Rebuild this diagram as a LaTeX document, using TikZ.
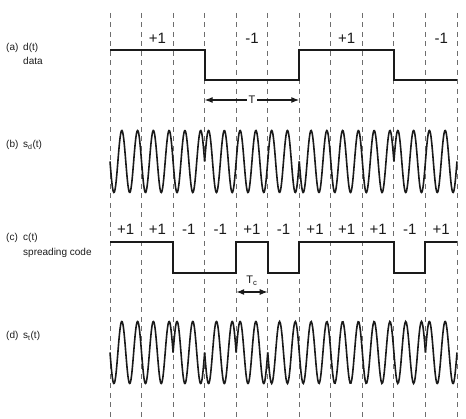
\documentclass[tikz,border=0pt]{standalone}
\usepackage{fontspec}
\setmainfont{Liberation Sans}
\usepackage{xcolor}
\usetikzlibrary{arrows.meta}
\definecolor{gridgray}{HTML}{6E6E6E}
\definecolor{inkblack}{HTML}{1A1A1A}

\begin{document}
\begin{tikzpicture}[x=1pt, y=-1pt, every node/.style={font=\fontsize{10}{12}\selectfont, inner sep=1pt, text=inkblack}]
        \useasboundingbox (0,0) rectangle (466,419);
        \tikzset{chipgrid/.style={gridgray, line width=0.9pt, dash pattern=on 5pt off 4.5pt},
          levelline/.style={inkblack, line width=2pt},
          carrier/.style={inkblack, line width=1.6pt},
          bitlabel/.style={font=\fontsize{15}{17}\selectfont},
          spanarrow/.style={{Latex[length=8pt,width=6pt]}-{Latex[length=8pt,width=6pt]}, inkblack, line width=1.2pt}}
        \foreach \i in {0,...,11}{\coordinate (t\i) at ({110+31.545*\i},0); \draw[chipgrid] (t\i |- 0,13) -- (t\i |- 0,417);}
        \coordinate (dhi) at (0,50); \coordinate (dlo) at (0,80);
        \coordinate (chi) at (0,242); \coordinate (clo) at (0,273);
        \node[anchor=west] (laba) at (5,48) {(a)}; \node[anchor=west] (nameda) at (22,48) {d(t)};
        \node[anchor=west] (descda) at (22,61) {data};
        \node[anchor=west] (labb) at (5,145) {(b)}; \node[anchor=west] (namesd) at (22,145) {s\textsubscript{d}(t)};
        \node[anchor=west] (labc) at (5,238) {(c)}; \node[anchor=west] (namect) at (22,238) {c(t)};
        \node[anchor=west] (descct) at (22,253) {spreading code};
        \node[anchor=west] (labd) at (5,336) {(d)}; \node[anchor=west] (namest) at (22,336) {s\textsubscript{t}(t)};
        \draw[levelline] (t0|-dhi) -- (t3|-dhi) -- (t3|-dlo) -- (t6|-dlo) -- (t6|-dhi) -- (t9|-dhi) -- (t9|-dlo) -- (t11|-dlo);
        \foreach \k/\v in {1/+1,4/-1,7/+1,10/-1}{\node[bitlabel] (dbit\k) at ({110+31.545*(\k+0.5)},38) {\v};}
        \draw[spanarrow] (t3|-0,100) -- (t6|-0,100) node[midway, fill=white, inner sep=2pt, font=\fontsize{11}{13}\selectfont] (Tlab) {T};
        \foreach \a/\b/\s [evaluate=\a as \xa using 110+31.545*\a, evaluate=\b as \xb using 110+31.545*\b] in {0/3/1,3/6/-1,6/9/1,9/11/-1}{\draw[carrier] plot[domain=\xa:\xb, samples=200] (\x, {161.5+31*\s*sin(22.8245*(\x-110))});}
        \draw[levelline] (t0|-chi) -- (t2|-chi) -- (t2|-clo) -- (t4|-clo) -- (t4|-chi) -- (t5|-chi) -- (t5|-clo) -- (t6|-clo) -- (t6|-chi) -- (t9|-chi) -- (t9|-clo) -- (t10|-clo) -- (t10|-chi) -- (t11|-chi);
        \foreach \v [count=\k from 0] in {+1,+1,-1,-1,+1,-1,+1,+1,+1,-1,+1}{\node[bitlabel] (cbit\k) at ({110+31.545*(\k+0.5)},229) {\v};}
        \draw[spanarrow] (t4|-0,292) -- (t5|-0,292);
        \node[font=\fontsize{11}{13}\selectfont] (Tclab) at (252,281) {T\textsubscript{c}};
        \foreach \a/\b/\s [evaluate=\a as \xa using 110+31.545*\a, evaluate=\b as \xb using 110+31.545*\b] in {0/2/1,2/3/-1,3/4/1,4/5/-1,5/10/1,10/11/-1}{\draw[carrier] plot[domain=\xa:\xb, samples=200] (\x, {352.5+31*\s*sin(22.8245*(\x-110))});}
      \end{tikzpicture}
\end{document}
